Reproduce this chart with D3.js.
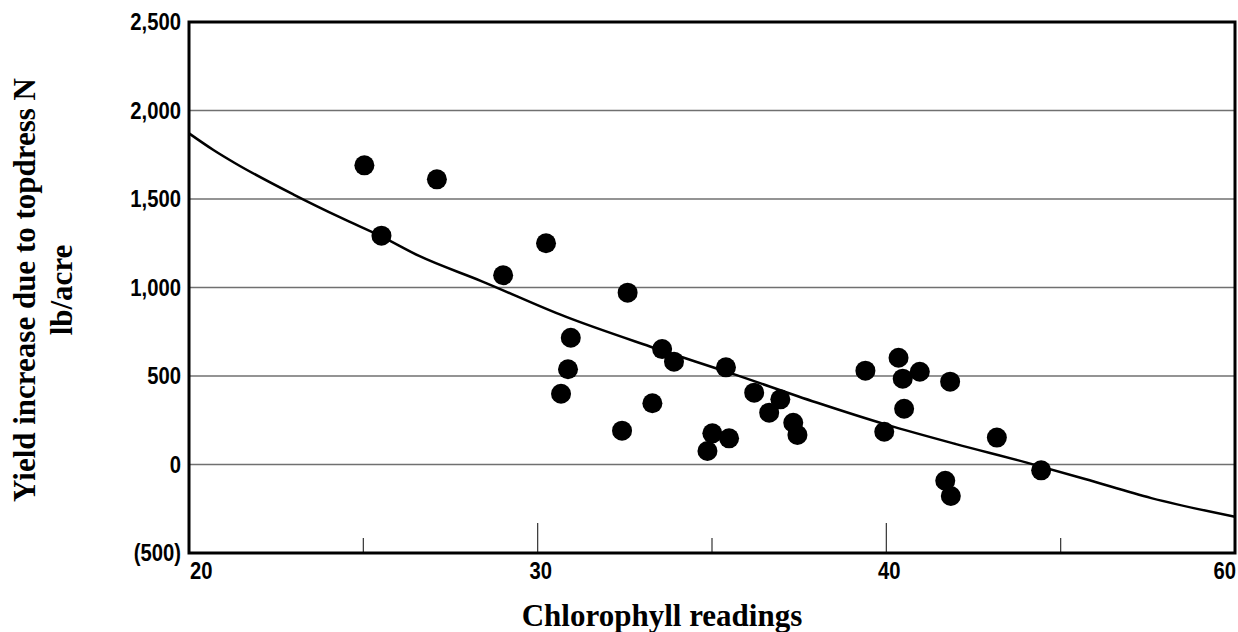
<!DOCTYPE html>
<html>
<head>
<meta charset="utf-8">
<script src="https://cdn.jsdelivr.net/npm/d3@7"></script>
<style>
  body { margin: 0; background: #fff; }
  .tick-label { font-family: "Liberation Sans", Arial, sans-serif; font-weight: bold; font-size: 23px; }
  .axis-title { font-family: "Liberation Serif", "DejaVu Serif", serif; font-weight: bold; font-size: 31px; }
</style>
</head>
<body>
<div id="chart"></div>
<script>
// Chlorophyll reading vs. yield increase (lb/acre)
const chlorophyll = [25.03, 25.52, 27.11, 29.01, 30.24, 32.58, 30.95, 30.87, 30.67, 33.57, 33.91,
                     35.40, 32.42, 33.29, 34.87, 35.01, 35.49, 36.21, 36.64, 36.96, 37.33, 37.45,
                     39.40, 39.94, 40.35, 40.47, 40.51, 40.96, 41.83, 41.69, 41.85, 43.17, 44.44];
const yieldIncrease = [1690, 1293, 1611, 1069, 1250, 971, 716, 538, 400, 652, 581,
                       549, 191, 346, 76, 176, 148, 406, 293, 368, 236, 167,
                       530, 185, 603, 485, 315, 524, 468, -92, -178, 152, -33];

// trend line
const trendX = [20, 20.7, 21.3, 23, 24.4, 25.5, 26.6, 28.4, 30.8, 33.2, 35.6, 38, 40, 42, 44, 45.7, 47.6, 50];
const trendY = [1871, 1777, 1705, 1525, 1390, 1290, 1178, 1035, 835, 668, 512, 350, 225, 115, 12, -82, -190, -295];

// axis ticks
const yTicks = [-500, 0, 500, 1000, 1500, 2000, 2500];
const xTicks = [20, 25, 30, 35, 40, 45, 50];
const xTickLabels = ["20", "", "30", "", "40", "", "60"];

const width = 1238, height = 632;
const margin = { top: 22, right: 3, bottom: 79, left: 189 };
const squeeze = 0.88; // tick labels use a condensed face

const svg = d3.select("#chart")
              .append("svg")
              .attr("width", width)
              .attr("height", height);

const x = d3.scaleLinear().domain([20, 50]).range([margin.left, width - margin.right]);
const y = d3.scaleLinear().domain([-500, 2500]).range([height - margin.bottom, margin.top]);

// Horizontal grid lines
svg.append("g")
   .selectAll("line")
   .data(yTicks.filter(d => d > -500 && d < 2500))
   .join("line")
   .attr("x1", x(20))
   .attr("x2", x(50))
   .attr("y1", d => y(d))
   .attr("y2", d => y(d))
   .attr("stroke", "#707070")
   .attr("stroke-width", 1.5);

// Y tick labels
const fmt = d => d < 0 ? "(" + d3.format(",")(-d) + ")" : d3.format(",")(d);
svg.append("g")
   .selectAll("text")
   .data(yTicks)
   .join("text")
   .attr("class", "tick-label")
   .attr("transform", d => `translate(${margin.left - 8},${y(d)}) scale(${squeeze},1)`)
   .attr("dy", "0.36em")
   .attr("text-anchor", "end")
   .text(fmt);

// X ticks (pointing up into the plot)
svg.append("g")
   .selectAll("line")
   .data(xTicks.slice(1, -1))
   .join("line")
   .attr("x1", d => x(d))
   .attr("x2", d => x(d))
   .attr("y1", y(-500))
   .attr("y2", d => y(-500) - (d % 10 === 0 ? 30 : 15))
   .attr("stroke", "#333")
   .attr("stroke-width", 1.2);

const last = xTicks.length - 1;
svg.append("g")
   .selectAll("text")
   .data(xTicks)
   .join("text")
   .attr("class", "tick-label")
   .attr("transform", (d, i) => {
       const tx = i === 0 ? x(d) + 1 : (i === last ? x(d) + 1 : x(d) + 3);
       return `translate(${tx},${y(-500) + 26}) scale(${squeeze},1)`;
   })
   .attr("text-anchor", (d, i) => i === 0 ? "start" : (i === last ? "end" : "middle"))
   .text((d, i) => xTickLabels[i]);

// Trend curve
const trend = trendX.map((d, i) => [d, trendY[i]]);
svg.append("path")
   .datum(trend)
   .attr("fill", "none")
   .attr("stroke", "#000")
   .attr("stroke-width", 2.5)
   .attr("d", d3.line()
               .x(d => x(d[0]))
               .y(d => y(d[1]))
               .curve(d3.curveMonotoneX));

// Data points
svg.append("g")
   .selectAll("circle")
   .data(chlorophyll.map((d, i) => [d, yieldIncrease[i]]))
   .join("circle")
   .attr("cx", d => x(d[0]))
   .attr("cy", d => y(d[1]))
   .attr("r", 10)
   .attr("fill", "#000");

// Frame
svg.append("rect")
   .attr("x", x(20))
   .attr("y", y(2500))
   .attr("width", x(50) - x(20))
   .attr("height", y(-500) - y(2500))
   .attr("fill", "none")
   .attr("stroke", "#000")
   .attr("stroke-width", 3);

// Axis titles
svg.append("text")
   .attr("class", "axis-title")
   .attr("x", 662)
   .attr("y", 626)
   .attr("text-anchor", "middle")
   .text("Chlorophyll readings");

const yTitle = svg.append("text")
   .attr("class", "axis-title")
   .attr("transform", "translate(0,290) rotate(-90)")
   .attr("text-anchor", "middle");
yTitle.append("tspan").attr("x", 0).attr("y", 35).text("Yield increase due to topdress N");
yTitle.append("tspan").attr("x", 0).attr("y", 72).text("lb/acre");
</script>
</body>
</html>
